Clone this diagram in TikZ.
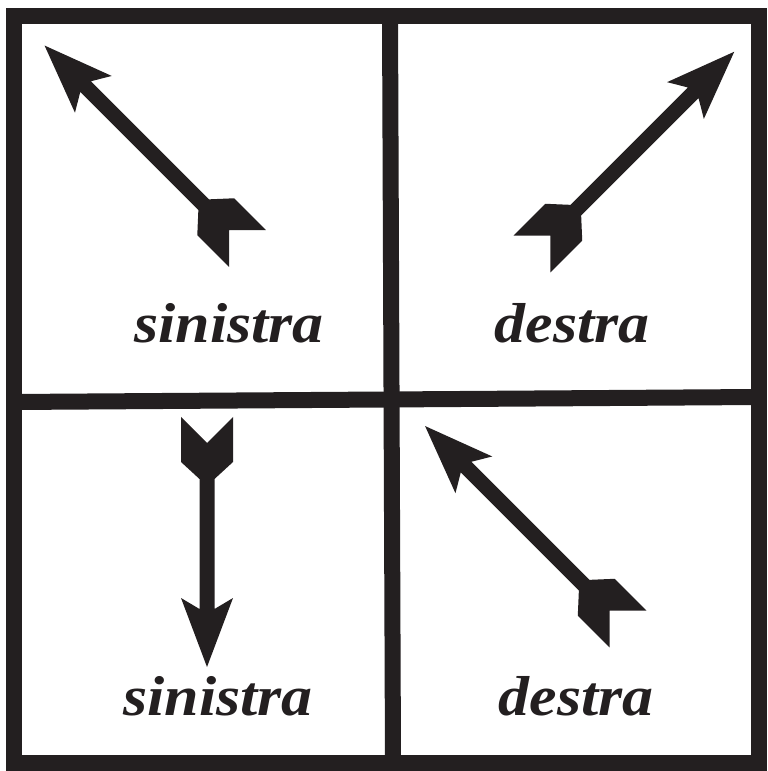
\documentclass[tikz,border=0pt]{standalone}
\usepackage{fontspec}
\usepackage{xcolor}
\usepackage{tikz}
\usetikzlibrary{calc}
\newfontfamily\labelfont[FakeStretch=1.1]{Liberation Serif}
\definecolor{inkblack}{RGB}{35, 31, 32}

\tikzset{
    frameline/.style={line width=16*0.2845pt, inkblack},
    handlabel/.style={anchor=base, inkblack, font=\labelfont\fontsize{16}{18}\selectfont\bfseries\itshape},
    % fletched arrow pointing along +x, tail at the origin, length #1
    arrowmark/.pic={
        \fill[inkblack] (0,26) -- (26,0) -- (0,-26) -- (45,-26) -- (62,-7.5)
            -- (#1-58,-7.5) -- (#1-69,-26) -- (#1,0) -- (#1-69,26)
            -- (#1-58,7.5) -- (62,7.5) -- (45,26) -- cycle;
    }
}

\begin{document}
\begin{tikzpicture}[x=0.01cm, y=-0.01cm]
    \useasboundingbox (0,0) rectangle (768,771);

    % Frame and dividers
    \coordinate (NW) at (14,16);
    \coordinate (SE) at (759,763);
    \draw[frameline] (NW) rectangle (SE);
    \draw[frameline] (390,16) -- (393,763);
    \draw[frameline] (14,402) -- (759,397);

    % Arrows (tail midpoint, direction, length)
    \pic[rotate=135] at (247.5,248.5) {arrowmark=287};
    \pic[rotate=45]  at (532,254)     {arrowmark=286};
    \pic[rotate=-90] at (207,417)     {arrowmark=250};
    \pic[rotate=135] at (628,629)     {arrowmark=287};

    % Labels
    \node[handlabel] (sinTop) at (229,343) {sinistra};
    \node[handlabel] (desTop) at (572,343) {destra};
    \node[handlabel] (sinBot) at (218,715) {sinistra};
    \node[handlabel] (desBot) at (576,715) {destra};
\end{tikzpicture}
\end{document}
